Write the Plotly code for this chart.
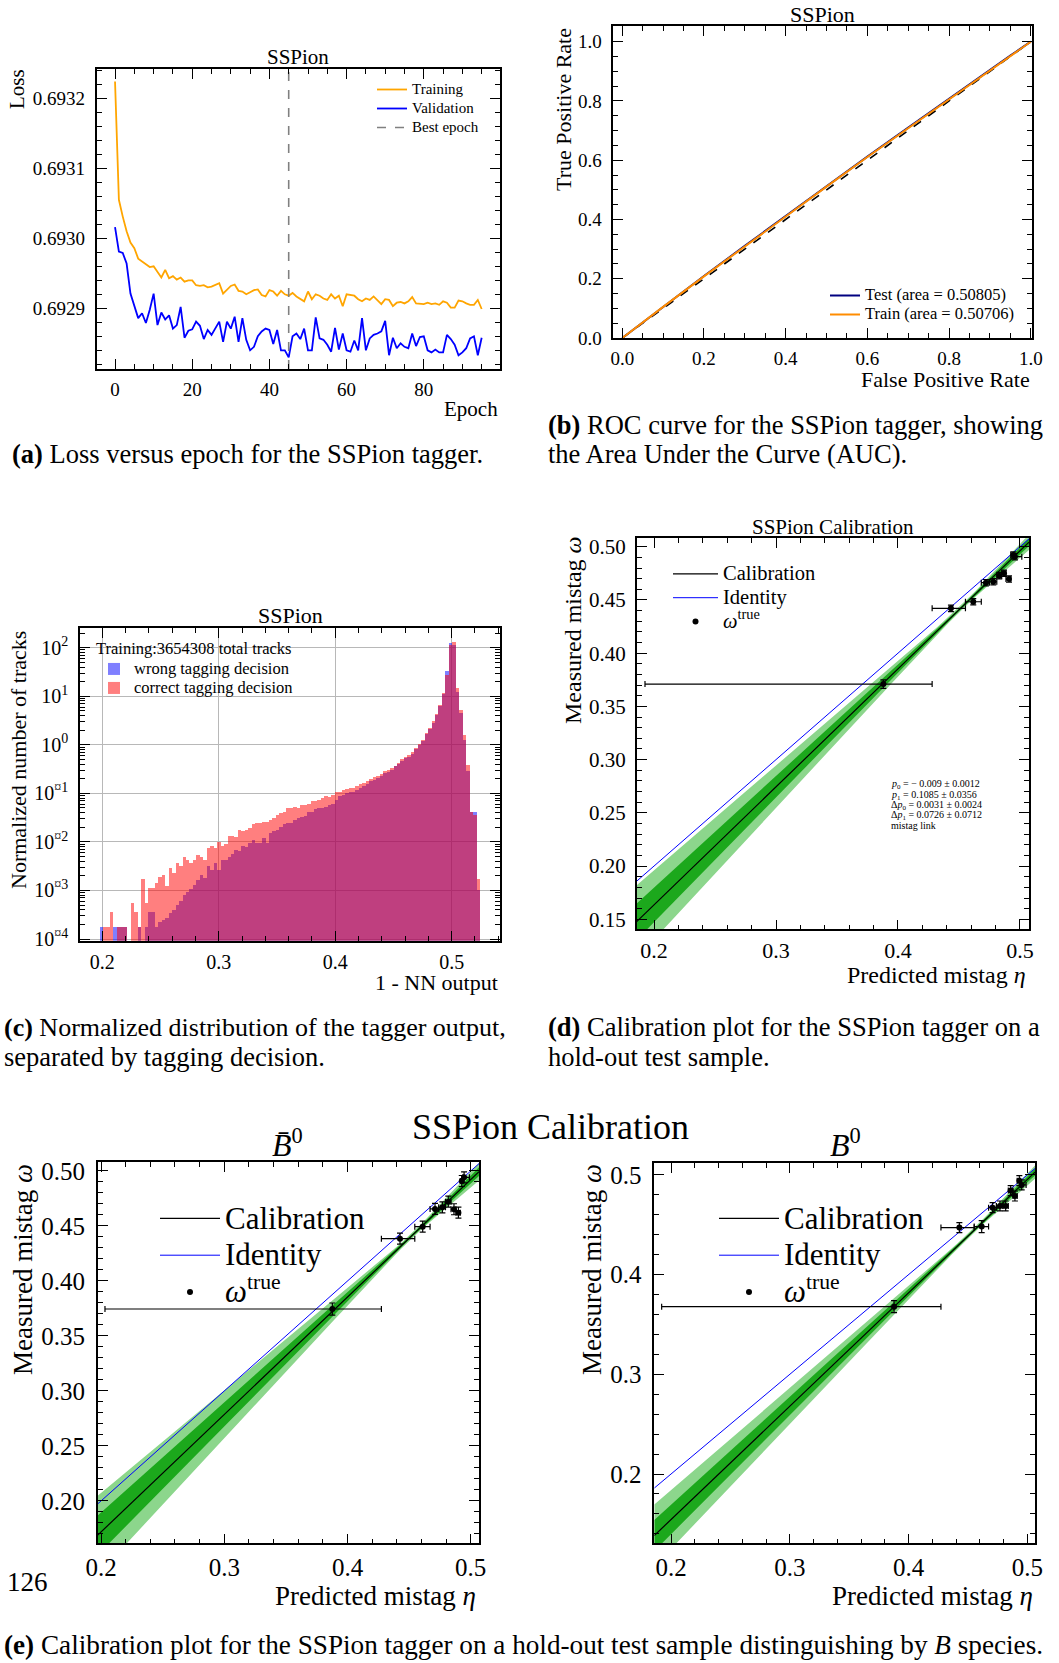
import numpy as np
import plotly.graph_objects as go

W, H = 1059, 1663
SERIF = "Liberation Serif"

# ---------------- (a) loss history ----------------
train_loss = [0.693224, 0.693055, 0.693031, 0.693010, 0.692994, 0.692986, 0.692971, 0.692967,
              0.692963, 0.692959, 0.692960, 0.692952, 0.692944, 0.692955, 0.692943, 0.692946,
              0.692941, 0.692944, 0.692938, 0.692940, 0.692940, 0.692933, 0.692932, 0.692933,
              0.692930, 0.692931, 0.692934, 0.692936, 0.692921, 0.692927, 0.692932, 0.692934,
              0.692925, 0.692924, 0.692920, 0.692923, 0.692926, 0.692927, 0.692919, 0.692917,
              0.692926, 0.692924, 0.692918, 0.692925, 0.692920, 0.692918, 0.692922, 0.692917,
              0.692914, 0.692910, 0.692924, 0.692913, 0.692920, 0.692918, 0.692914, 0.692912,
              0.692920, 0.692914, 0.692918, 0.692903, 0.692920, 0.692919, 0.692918, 0.692913,
              0.692910, 0.692914, 0.692912, 0.692917, 0.692912, 0.692906, 0.692913, 0.692912,
              0.692903, 0.692908, 0.692909, 0.692907, 0.692910, 0.692916, 0.692907, 0.692907,
              0.692906, 0.692908, 0.692906, 0.692907, 0.692905, 0.692910, 0.692908, 0.692901,
              0.692901, 0.692911, 0.692910, 0.692907, 0.692905, 0.692905, 0.692912, 0.692899]
val_loss = [0.693016, 0.692981, 0.692979, 0.692964, 0.692921, 0.692902, 0.692886, 0.692893,
            0.692879, 0.692898, 0.692921, 0.692876, 0.692894, 0.692884, 0.692890, 0.692871,
            0.692876, 0.692902, 0.692858, 0.692868, 0.692870, 0.692881, 0.692875, 0.692856,
            0.692869, 0.692862, 0.692871, 0.692881, 0.692852, 0.692881, 0.692871, 0.692888,
            0.692852, 0.692886, 0.692855, 0.692840, 0.692845, 0.692860, 0.692867, 0.692871,
            0.692869, 0.692849, 0.692869, 0.692840, 0.692840, 0.692830, 0.692860, 0.692864,
            0.692856, 0.692871, 0.692840, 0.692840, 0.692887, 0.692857, 0.692855, 0.692848,
            0.692838, 0.692872, 0.692841, 0.692864, 0.692840, 0.692838, 0.692854, 0.692840,
            0.692886, 0.692840, 0.692857, 0.692862, 0.692864, 0.692867, 0.692882, 0.692833,
            0.692858, 0.692843, 0.692850, 0.692845, 0.692843, 0.692864, 0.692846, 0.692859,
            0.692860, 0.692840, 0.692837, 0.692841, 0.692837, 0.692837, 0.692862, 0.692856,
            0.692848, 0.692833, 0.692837, 0.692843, 0.692857, 0.692860, 0.692833, 0.692858]
epochs = list(range(len(train_loss)))
best_epoch = 45

# ---------------- (b) ROC curve ----------------
roc_fpr = [0.0, 0.05, 0.1, 0.2, 0.3, 0.4, 0.5, 0.6, 0.7, 0.8, 0.9, 0.95, 1.0]
roc_tpr_test = [0.0, 0.053, 0.105, 0.209, 0.311, 0.412, 0.512, 0.612, 0.710, 0.808, 0.905, 0.953, 1.0]
roc_tpr_train = [0.0, 0.053, 0.105, 0.208, 0.310, 0.411, 0.511, 0.611, 0.709, 0.807, 0.904, 0.952, 1.0]
auc_test = 0.50805
auc_train = 0.50706

# ---------------- (c) tagger output distribution ----------------
n_training_tracks = 3654308
hist_start = 0.1976
hist_bin_width = 0.00297
# log10 of the normalised number of tracks per bin (None = empty bin)
correct_log10 = [None, -3.75, -3.75, -3.44, None, -3.75, -3.75, -3.75, None, -3.27,
                 -3.44, -3.75, -2.78, -3.27, -2.96, -2.96, -2.86, -2.72, -2.68, -2.92,
                 -2.55, -2.65, -2.44, -2.51, -2.31, -2.38, -2.44, -2.37, -2.27, -2.31,
                 -2.37, -2.13, -2.10, -2.13, -2.00, -2.10, -2.05, -1.89, -1.89, -1.91,
                 -1.76, -1.79, -1.76, -1.72, -1.63, -1.62, -1.62, -1.59, -1.59, -1.55,
                 -1.52, -1.45, -1.41, -1.38, -1.31, -1.31, -1.28, -1.31, -1.24, -1.24,
                 -1.22, -1.17, -1.17, -1.14, -1.10, -1.07, -1.08, -1.04, -0.97, -0.97,
                 -0.93, -0.92, -0.90, -0.90, -0.86, -0.81, -0.80, -0.76, -0.71, -0.67,
                 -0.64, -0.60, -0.55, -0.52, -0.49, -0.44, -0.38, -0.30, -0.26, -0.22,
                 -0.16, -0.07, 0.01, 0.10, 0.24, 0.34, 0.48, 0.63, 0.82, 1.06,
                 1.44, 2.055, 2.11, 1.16, 0.72, 0.20, -0.42, -1.38, -1.45, -2.78]
wrong_log10 = [-3.75, None, None, None, -3.75, -3.75, -3.75, -3.75, None, None,
               None, -3.75, None, -3.75, -3.44, -3.44, -3.75, -3.65, -3.61, -3.58,
               -3.47, -3.41, -3.30, -3.23, -3.10, -3.04, -2.98, -2.89, -2.79, -2.68,
               -2.75, -2.51, -2.59, -2.44, -2.58, -2.37, -2.37, -2.31, -2.25, -2.18,
               -2.20, -2.10, -2.11, -2.03, -1.96, -2.03, -2.03, -1.93, -2.03, -1.83,
               -1.79, -1.76, -1.70, -1.63, -1.61, -1.61, -1.56, -1.52, -1.50, -1.47,
               -1.40, -1.38, -1.33, -1.31, -1.30, -1.28, -1.24, -1.22, -1.14, -1.07,
               -1.04, -1.00, -0.97, -0.97, -0.93, -0.90, -0.86, -0.81, -0.76, -0.73,
               -0.69, -0.64, -0.59, -0.56, -0.52, -0.45, -0.40, -0.33, -0.28, -0.25,
               -0.19, -0.10, -0.02, 0.07, 0.21, 0.31, 0.45, 0.60, 0.80, 1.04,
               1.51, 2.09, 2.055, 1.09, 0.65, 0.10, -0.55, -1.38, -1.40, -3.00]
decade_ticks = [-4, -3, -2, -1, 0, 1, 2]
decade_labels = ["10<sup>¤4</sup>", "10<sup>¤3</sup>", "10<sup>¤2</sup>", "10<sup>¤1</sup>",
                 "10<sup>0</sup>", "10<sup>1</sup>", "10<sup>2</sup>"]

# ---------------- (d) calibration, full test sample ----------------
calib_p0 = -0.009
calib_p0_err = 0.0012
calib_p1 = 0.1085
calib_p1_err = 0.0356
calib_dp0 = 0.0031
calib_dp0_err = 0.0024
calib_dp1 = 0.0726
calib_dp1_err = 0.0712
eta_mean = 0.453
calib_band_p1 = 0.064
eta_d = [0.388, 0.4434, 0.4617, 0.4721, 0.4781, 0.4830, 0.4869, 0.4910, 0.4945, 0.4959]
omega_d = [0.371, 0.4421, 0.4483, 0.4662, 0.4671, 0.4728, 0.4750, 0.4696, 0.4922, 0.4906]
omega_err_d = [0.004, 0.003, 0.003, 0.003, 0.003, 0.003, 0.003, 0.003, 0.003, 0.003]
eta_edges_d = [0.1926, 0.4280, 0.4553, 0.4683, 0.4749, 0.4810, 0.4850, 0.4885, 0.4925, 0.4950, 0.5015]

# ---------------- (e) calibration split by B species ----------------
p0_bbar, p1_bbar, band_p1_bbar = -0.011, 0.068, 0.070
eta_bbar = [0.3877, 0.4426, 0.4610, 0.4710, 0.4770, 0.4818, 0.4864, 0.4900, 0.4927, 0.4946]
omega_bbar = [0.3745, 0.4385, 0.4494, 0.4655, 0.4670, 0.4721, 0.4652, 0.4621, 0.4909, 0.4942]
omega_err_bbar = [0.0055, 0.005, 0.005, 0.005, 0.005, 0.005, 0.005, 0.005, 0.005, 0.005]
eta_edges_bbar = [0.2032, 0.4275, 0.4546, 0.4670, 0.4740, 0.4795, 0.4840, 0.4880, 0.4915, 0.4937, 0.4990]

p0_b, p1_b, band_p1_b = -0.011, 0.137, 0.058
eta_b = [0.3878, 0.4428, 0.4616, 0.4708, 0.4770, 0.4818, 0.4860, 0.4896, 0.4933, 0.4953]
omega_b = [0.3679, 0.4472, 0.4482, 0.4672, 0.4689, 0.4689, 0.4843, 0.4789, 0.4943, 0.4900]
omega_err_b = [0.006, 0.005, 0.006, 0.005, 0.005, 0.005, 0.005, 0.005, 0.005, 0.005]
eta_edges_b = [0.1921, 0.4273, 0.4553, 0.4674, 0.4740, 0.4795, 0.4840, 0.4880, 0.4915, 0.4943, 0.4990]


def dom_x(left, right):
    return [left / W, right / W]


def dom_y(top, bottom):
    return [1 - bottom / H, 1 - top / H]


def axis(domain, rng, dtick=None, minor_dtick=None, size=19, fmt=None, anchor=None, standoff=6, **extra):
    ax = dict(domain=domain, range=rng, showline=True, linecolor="black", linewidth=1.6,
              mirror="ticks", ticks="inside", ticklen=10, tickwidth=1.3, tickcolor="black",
              showgrid=False, zeroline=False, anchor=anchor, ticklabelstandoff=standoff,
              automargin=False, tickfont=dict(family=SERIF, size=size, color="black"))
    if dtick is not None:
        ax["dtick"] = dtick
    if minor_dtick is not None:
        ax["minor"] = dict(ticks="inside", ticklen=5, tickwidth=1, tickcolor="black", dtick=minor_dtick)
    if fmt:
        ax["tickformat"] = fmt
    ax.update(extra)
    return ax


def ann(text, x, y, size, xanchor="center", yanchor="middle", angle=0, color="black"):
    return dict(text=text, x=x / W, y=1 - y / H, xref="paper", yref="paper",
                xanchor=xanchor, yanchor=yanchor, textangle=angle, showarrow=False,
                font=dict(family=SERIF, size=size, color=color))


def big(text, px):
    # legend label drawn larger than the row pitch set by the legend font
    return f'<span style="font-size:{px}px">{text}</span>'


fig = go.Figure()

# ---- panel (a)
xa_rng = [-4.75, 99.75]
ya_rng = [0.6928133, 0.6932419]
fig.add_trace(go.Scatter(x=epochs, y=train_loss, mode="lines", name=big("Training", 15),
                         line=dict(color="#FFA500", width=1.8), xaxis="x", yaxis="y", legend="legend"))
fig.add_trace(go.Scatter(x=epochs, y=val_loss, mode="lines", name=big("Validation", 15),
                         line=dict(color="#0000FF", width=1.8), xaxis="x", yaxis="y", legend="legend"))
fig.add_trace(go.Scatter(x=[best_epoch, best_epoch], y=ya_rng, mode="lines", name=big("Best epoch", 15),
                         line=dict(color="#808080", width=1.6, dash="dash"), xaxis="x", yaxis="y",
                         legend="legend"))

# ---- panel (b)
fig.add_trace(go.Scatter(x=[0, 1], y=[0, 1], mode="lines", showlegend=False,
                         line=dict(color="black", width=1.6, dash="dash"), xaxis="x2", yaxis="y2"))
fig.add_trace(go.Scatter(x=roc_fpr, y=roc_tpr_test, mode="lines",
                         name=big(f"Test (area = {auc_test:.5f})", 16.5),
                         line=dict(color="#000080", width=2), xaxis="x2", yaxis="y2", legend="legend2"))
fig.add_trace(go.Scatter(x=roc_fpr, y=roc_tpr_train, mode="lines",
                         name=big(f"Train (area = {auc_train:.5f})", 16.5),
                         line=dict(color="#FF8C00", width=2), xaxis="x2", yaxis="y2", legend="legend2"))

# ---- panel (c)
n_bins = len(correct_log10)
bin_centers = hist_start + hist_bin_width * (np.arange(n_bins) + 0.5)
wrong_vals = [None if v is None else 10 ** v for v in wrong_log10]
correct_vals = [None if v is None else 10 ** v for v in correct_log10]
fig.add_trace(go.Bar(x=bin_centers, y=wrong_vals, width=hist_bin_width,
                     name=big("wrong tagging decision", 16.5),
                     marker=dict(color="rgba(0,0,255,0.5)", line=dict(width=0)),
                     xaxis="x3", yaxis="y3", legend="legend3"))
fig.add_trace(go.Bar(x=bin_centers, y=correct_vals, width=hist_bin_width,
                     name=big("correct tagging decision", 16.5),
                     marker=dict(color="rgba(255,0,0,0.5)", line=dict(width=0)),
                     xaxis="x3", yaxis="y3", legend="legend3"))


# ---- calibration panels
def calibration_panel(xa, ya, xr, p0, p1, band_p1, p0_err, eta, omega, omega_err, edges, leg, fs):
    grid = np.linspace(xr[0], xr[1], 60)
    line = grid + p0 + p1 * (grid - eta_mean)
    sig = np.sqrt(p0_err ** 2 + (band_p1 * (grid - eta_mean)) ** 2)
    for k, col in ((2, "rgb(140,214,140)"), (1, "rgb(28,168,28)")):
        up = line + k * sig
        lo = line - k * sig
        fig.add_trace(go.Scatter(x=np.concatenate([grid, grid[::-1]]), y=np.concatenate([up, lo[::-1]]),
                                 fill="toself", fillcolor=col, line=dict(width=0), mode="lines",
                                 hoverinfo="skip", showlegend=False, xaxis=xa, yaxis=ya))
    fig.add_trace(go.Scatter(x=grid, y=line, mode="lines", name=big("Calibration", fs),
                             line=dict(color="black", width=1.2), xaxis=xa, yaxis=ya, legend=leg))
    fig.add_trace(go.Scatter(x=grid, y=grid, mode="lines", name=big("Identity", fs),
                             line=dict(color="#0000FF", width=1), xaxis=xa, yaxis=ya, legend=leg))
    lo_e = [e - edges[i] for i, e in enumerate(eta)]
    hi_e = [edges[i + 1] - e for i, e in enumerate(eta)]
    fig.add_trace(go.Scatter(x=eta, y=omega, mode="markers", name=big("<i>ω</i><sup>true</sup>", fs),
                             marker=dict(color="black", size=6),
                             error_x=dict(type="data", symmetric=False, array=hi_e, arrayminus=lo_e,
                                          color="black", thickness=1.2, width=3),
                             error_y=dict(type="data", array=omega_err, color="black", thickness=1.2, width=3),
                             xaxis=xa, yaxis=ya, legend=leg))


xd_rng = [0.1858, 0.5074]
yd_rng = [0.1406, 0.5079]
calibration_panel("x4", "y4", xd_rng, calib_p0, calib_p1, calib_band_p1, calib_p0_err,
                  eta_d, omega_d, omega_err_d, eta_edges_d, "legend4", 20.5)
xe1_rng = [0.1973, 0.5067]
ye1_rng = [0.1615, 0.5079]
calibration_panel("x5", "y5", xe1_rng, p0_bbar, p1_bbar, band_p1_bbar, calib_p0_err,
                  eta_bbar, omega_bbar, omega_err_bbar, eta_edges_bbar, "legend5", 31)
xe2_rng = [0.1859, 0.5065]
ye2_rng = [0.1305, 0.5123]
calibration_panel("x6", "y6", xe2_rng, p0_b, p1_b, band_p1_b, calib_p0_err,
                  eta_b, omega_b, omega_err_b, eta_edges_b, "legend6", 31)

leg_common = dict(xanchor="left", yanchor="top", bgcolor="rgba(0,0,0,0)", borderwidth=0)

layout = dict(
    width=W, height=H, autosize=False,
    margin=dict(l=0, r=0, t=0, b=0, pad=0, autoexpand=False),
    paper_bgcolor="white", plot_bgcolor="white", barmode="overlay", bargap=0,
    font=dict(family=SERIF, color="black"),
    # (a)
    xaxis=axis(dom_x(96.7, 500), xa_rng, 20, 5, 19, anchor="y", standoff=2),
    yaxis=axis(dom_y(69, 369), ya_rng, 0.0001, 0.00002, 19, ".4f", anchor="x"),
    # (b)
    xaxis2=axis(dom_x(613.3, 1032), [-0.022, 1.003], 0.2, 0.05, 19, ".1f", anchor="y2", standoff=2),
    yaxis2=axis(dom_y(26, 338), [0, 1.053], 0.2, 0.05, 19, ".1f", anchor="x2"),
    # (c)
    xaxis3=axis(dom_x(80, 500), [0.1808, 0.5415], 0.1, 0.02, 20, ".1f", anchor="y3", standoff=2,
                showgrid=True, gridcolor="#b8b8b8", gridwidth=1),
    yaxis3=axis(dom_y(628.3, 940.7), [-4.035, 2.4], None, None, 20, anchor="x3", type="log",
                tickmode="array", tickvals=[10 ** d for d in decade_ticks], ticktext=decade_labels,
                showgrid=True, gridcolor="#b8b8b8", gridwidth=1,
                minor=dict(ticks="inside", ticklen=5, tickwidth=1, tickcolor="black", dtick="D1")),
    # (d)
    xaxis4=axis(dom_x(636.7, 1029), xd_rng, 0.1, 0.02, 22, ".1f", anchor="y4", standoff=0),
    yaxis4=axis(dom_y(538.3, 929.3), yd_rng, 0.05, 0.01, 21, ".2f", anchor="x4", standoff=5),
    # (e) left
    xaxis5=axis(dom_x(97.7, 479), xe1_rng, 0.1, 0.02, 25, ".1f", anchor="y5", standoff=1),
    yaxis5=axis(dom_y(1162.3, 1543.3), ye1_rng, 0.05, 0.01, 25, ".2f", anchor="x5"),
    # (e) right
    xaxis6=axis(dom_x(654.3, 1035), xe2_rng, 0.1, 0.02, 25, ".1f", anchor="y6", standoff=1),
    yaxis6=axis(dom_y(1162.7, 1543.3), ye2_rng, 0.1, 0.02, 25, ".1f", anchor="x6"),
    legend=dict(x=372 / W, y=1 - 75 / H, font=dict(family=SERIF, size=12), **leg_common),
    legend2=dict(x=825 / W, y=1 - 281 / H, font=dict(family=SERIF, size=11.5), **leg_common),
    legend3=dict(x=94 / W, y=1 - 633 / H, font=dict(family=SERIF, size=12.3),
                 title=dict(text=f"Training:{n_training_tracks} total tracks",
                            font=dict(family=SERIF, size=16.5)), **leg_common),
    legend4=dict(x=668 / W, y=1 - 557 / H, font=dict(family=SERIF, size=16), itemwidth=45, **leg_common),
    legend5=dict(x=155 / W, y=1 - 1195 / H, font=dict(family=SERIF, size=26), itemwidth=60, **leg_common),
    legend6=dict(x=714 / W, y=1 - 1195 / H, font=dict(family=SERIF, size=26), itemwidth=60, **leg_common),
)
fig.update_layout(**layout)

annotations = [
    # (a)
    ann("SSPion", 298, 57, 21),
    ann("Loss", 17, 89, 21, angle=-90),
    ann("Epoch", 500, 409, 21, xanchor="right"),
    # (b)
    ann("SSPion", 822, 14, 22),
    ann("True Positive Rate", 563, 110, 22, angle=-90),
    ann("False Positive Rate", 1032, 379, 22, xanchor="right"),
    # (c)
    ann("SSPion", 290, 615, 22),
    ann("Normalized number of tracks", 18, 760, 22, angle=-90),
    ann("1 - NN output", 500, 982, 22, xanchor="right"),
    # (d)
    ann("SSPion Calibration", 833, 527, 21),
    ann("Measured mistag <i>ω</i>", 573, 630, 24, angle=-90),
    ann("Predicted mistag <i>η</i>", 1028, 975, 24, xanchor="right"),
    # (e)
    ann("SSPion Calibration", 550, 1127, 36),
    ann("<i>B\u0304</i><sup>0</sup>", 287, 1143, 32),
    ann("<i>B</i><sup>0</sup>", 845, 1143, 32),
    ann("Measured mistag <i>ω</i>", 23, 1270, 27, angle=-90),
    ann("Predicted mistag <i>η</i>", 478, 1596, 27, xanchor="right"),
    ann("Measured mistag <i>ω</i>", 592, 1270, 27, angle=-90),
    ann("Predicted mistag <i>η</i>", 1035, 1596, 27, xanchor="right"),
    ann("126", 5, 1582, 27, xanchor="left"),
]

# fit summary in panel (d)
fit_lines = [
    f"<i>p</i><sub>0</sub> = − {abs(calib_p0):.3f} ± {calib_p0_err:.4f}",
    f"<i>p</i><sub>1</sub> = {calib_p1:.4f} ± {calib_p1_err:.4f}",
    f"Δ<i>p</i><sub>0</sub> = {calib_dp0:.4f} ± {calib_dp0_err:.4f}",
    f"Δ<i>p</i><sub>1</sub> = {calib_dp1:.4f} ± {calib_dp1_err:.4f}",
    "mistag link",
]
for i, t in enumerate(fit_lines):
    annotations.append(ann(t, 889, 785 + 10 * i, 10, xanchor="left"))

# captions
cap = 26.5
annotations += [
    ann("<b>(a)</b> Loss versus epoch for the SSPion tagger.", 10, 454, cap, xanchor="left"),
    ann("<b>(b)</b> ROC curve for the SSPion tagger, showing", 546, 425, cap, xanchor="left"),
    ann("the Area Under the Curve (AUC).", 546, 454, cap, xanchor="left"),
    ann("<b>(c)</b> Normalized distribution of the tagger output,", 2, 1027, 26, xanchor="left"),
    ann("separated by tagging decision.", 2, 1057, cap, xanchor="left"),
    ann("<b>(d)</b> Calibration plot for the SSPion tagger on a", 546, 1027, cap, xanchor="left"),
    ann("hold-out test sample.", 546, 1057, cap, xanchor="left"),
    ann("<b>(e)</b> Calibration plot for the SSPion tagger on a hold-out test sample distinguishing by "
        "<i>B</i> species.", 2, 1645, 27.2, xanchor="left"),
]
fig.update_layout(annotations=annotations)

# page without body margin so the figure sits flush in the window
page_css = ("document.documentElement.style.margin='0';document.body.style.margin='0';"
            "document.body.style.padding='0';document.documentElement.style.overflow='hidden';")
fig.write_html("out.html", post_script=page_css)
